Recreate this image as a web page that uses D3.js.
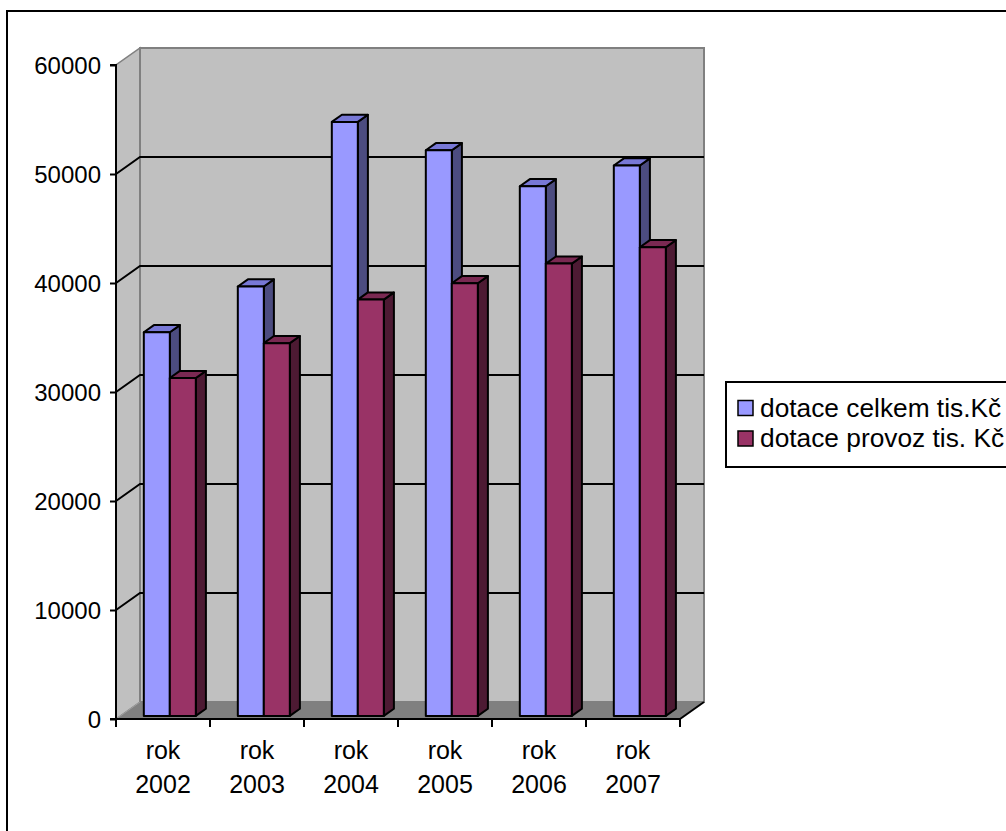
<!DOCTYPE html>
<html><head><meta charset="utf-8">
<script src="https://cdn.jsdelivr.net/npm/d3@7/dist/d3.min.js"></script>
<style>html,body{margin:0;padding:0;background:#fff;overflow:hidden}svg{display:block}</style>
</head><body>
<script>
const categories = ["rok 2002","rok 2003","rok 2004","rok 2005","rok 2006","rok 2007"];
const seriesNames = ["dotace celkem tis.Kč","dotace provoz tis. Kč"];
const celkem = [35200, 39400, 54500, 51900, 48600, 50500];
const provoz = [31000, 34200, 38200, 39700, 41500, 43000];
const yTicks = [0,10000,20000,30000,40000,50000,60000];
const colors = [
  {front:"#9999ff", top:"#7878d6", side:"#4c4c80"},
  {front:"#993366", top:"#7a2952", side:"#4d1a33"}
];

const W=1006,H=831;
const svg=d3.select("body").append("svg").attr("width",W).attr("height",H);
const font="Liberation Sans, Arial, sans-serif";

// outer frame
svg.append("rect").attr("x",7).attr("y",11).attr("width",1010).attr("height",840)
  .attr("fill","#fff").attr("stroke","#000").attr("stroke-width",2);

const x=d3.scaleBand().domain(categories).range([116,680]);
const y=d3.scaleLinear().domain([0,60000]).range([719,65]);
const DX=24, DY=17;
const P=(xf,v,z)=>[xf+DX*z, y(v)-DY*z];
const poly=pts=>pts.map(p=>p.join(",")).join(" ");

const x0=x.range()[0], x1=x.range()[1];
// side wall
svg.append("polygon").attr("points",poly([P(x0,0,0),P(x0,0,1),P(x0,60000,1),P(x0,60000,0)]))
  .attr("fill","#c0c0c0").attr("stroke","#808080").attr("stroke-width",1.5);
// back wall
svg.append("polygon").attr("points",poly([P(x0,0,1),P(x1,0,1),P(x1,60000,1),P(x0,60000,1)]))
  .attr("fill","#c0c0c0").attr("stroke","#808080").attr("stroke-width",2);
// floor
svg.append("polygon").attr("points",poly([P(x0,0,0),P(x1,0,0),P(x1,0,1),P(x0,0,1)]))
  .attr("fill","#808080").attr("stroke","none");
svg.append("line").attr("x1",P(x1,0,0)[0]).attr("y1",P(x1,0,0)[1]).attr("x2",P(x1,0,1)[0]).attr("y2",P(x1,0,1)[1])
  .attr("stroke","#000").attr("stroke-width",2);
svg.append("line").attr("x1",P(x0,0,0)[0]).attr("y1",P(x0,0,0)[1]).attr("x2",P(x0,0,1)[0]).attr("y2",P(x0,0,1)[1])
  .attr("stroke","#a0a0a0").attr("stroke-width",1);

// gridlines
yTicks.filter(t=>t>0&&t<60000).forEach(t=>{
  const a=P(x0,t,0), b=P(x0,t,1), c=P(x1,t,1);
  svg.append("polyline").attr("points",poly([a,b,c])).attr("fill","none")
    .attr("stroke","#000").attr("stroke-width",2);
});

// bars
const sub=d3.scaleBand().domain(seriesNames).range([23.5,75.5]);
const zf=0.18, zb=0.6;
const data=[celkem,provoz];
categories.forEach((c,i)=>{
  seriesNames.forEach((s,j)=>{
    const v=data[j][i];
    const xl=x(c)+sub(s), xr=xl+sub.bandwidth();
    const col=colors[j];
    const g=svg.append("g").attr("stroke","#000").attr("stroke-width",2).attr("stroke-linejoin","round");
    g.append("polygon").attr("points",poly([P(xr,0,zf),P(xr,0,zb),P(xr,v,zb),P(xr,v,zf)])).attr("fill",col.side);
    g.append("polygon").attr("points",poly([P(xl,v,zf),P(xr,v,zf),P(xr,v,zb),P(xl,v,zb)])).attr("fill",col.top);
    g.append("polygon").attr("points",poly([P(xl,0,zf),P(xr,0,zf),P(xr,v,zf),P(xl,v,zf)])).attr("fill",col.front);
  });
});

// y axis
const yAxis=d3.axisLeft(y).tickValues(yTicks).tickSize(6).tickPadding(9).tickFormat(d3.format("d"));
const ya=svg.append("g").attr("transform",`translate(${x0},0)`).call(yAxis);
ya.select(".domain").attr("stroke","#000").attr("stroke-width",2).attr("d",`M-6,${y(60000)}H0V${y(0)}H-6`);
ya.selectAll(".tick line").attr("stroke","#000").attr("stroke-width",2);
ya.selectAll("text").attr("font-family",font).attr("font-size",24).attr("fill","#000").attr("dy","0.35em");

// x axis
const xAxis=d3.axisBottom(x).tickSize(0).tickFormat("");
const xa=svg.append("g").attr("transform",`translate(0,${y(0)})`).call(xAxis);
xa.select(".domain").attr("stroke","#000").attr("stroke-width",2).attr("d",`M${x0},0H${x1}`);
const bounds=categories.map(c=>x(c)).concat([x1]);
xa.selectAll(".bt").data(bounds).enter().append("line").attr("class","bt")
  .attr("x1",d=>d).attr("x2",d=>d).attr("y1",0).attr("y2",8).attr("stroke","#000").attr("stroke-width",2);
categories.forEach(c=>{
  const parts=c.split(" ");
  const t=svg.append("text").attr("font-family",font).attr("font-size",25).attr("text-anchor","middle").attr("fill","#000");
  parts.forEach((p,k)=>t.append("tspan").attr("x",x(c)+x.bandwidth()/2).attr("y",759+k*34).text(p));
});

// legend
const lg=svg.append("g");
lg.append("rect").attr("x",726).attr("y",382).attr("width",400).attr("height",85)
  .attr("fill","#fff").attr("stroke","#000").attr("stroke-width",2);
seriesNames.forEach((s,j)=>{
  const cy=408+j*30.5;
  lg.append("rect").attr("x",738).attr("y",cy-7.5).attr("width",15).attr("height",15)
    .attr("fill",colors[j].front).attr("stroke","#000").attr("stroke-width",1.5);
  lg.append("text").attr("x",760).attr("y",cy+8.5).attr("font-family",font).attr("font-size",26.3).attr("fill","#000").text(s);
});
</script>
</body></html>
